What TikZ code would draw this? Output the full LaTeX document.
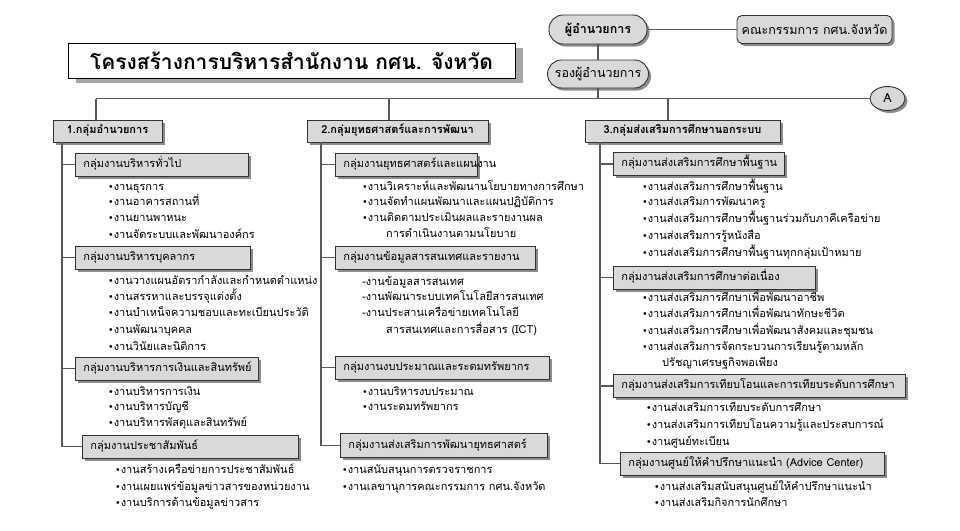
\documentclass[tikz,border=0pt]{standalone}
\usepackage{fontspec}
\usetikzlibrary{shadows,shapes.geometric}
\newfontfamily\thai[Script=Thai]{Loma}
\newfontfamily\dejavu{DejaVu Sans}
\newcommand\bul{\raisebox{0.2pt}{\dejavu\fontsize{9.5}{9.5}\selectfont •}}
\tikzset{
  conn/.style={draw=black!65, line width=1.3pt},
  shad/.style={drop shadow={shadow xshift=2.5pt, shadow yshift=-2.5pt, fill=black!45, opacity=1}},
  gbox/.style={draw=black!80, line width=0.9pt, fill=black!15, shad, font=\thai\bfseries\fontsize{11}{12}\selectfont, minimum height=22pt, inner sep=0pt, text height=8pt, text depth=3pt, align=center},
  sbox/.style={draw=black!80, line width=0.9pt, fill=black!15, shad, font=\thai\fontsize{11}{12}\selectfont, minimum height=23pt, inner xsep=8pt, inner ysep=0pt, text height=8pt, text depth=3pt, anchor=west, align=left},
  item/.style={anchor=base west, inner sep=0pt, font=\thai\fontsize{11}{12}\selectfont},
  topbox/.style={draw=black!80, line width=0.9pt, fill=black!15, shad, font=\thai\fontsize{12.5}{14}\selectfont, inner sep=0pt},
}
\begin{document}
\begin{tikzpicture}[x=1pt,y=-1pt]
\fill[white] (0,0) rectangle (960,530);
\useasboundingbox (0,0) rectangle (960,530);

% title
\node[draw=black, line width=0.9pt, fill=white, minimum width=447pt, minimum height=35pt, inner sep=0pt,
  drop shadow={shadow xshift=8pt, shadow yshift=-5pt, fill=black!35, opacity=1},
  font=\thai\bfseries\fontsize{21}{24}\selectfont] (title) at (291.5,60.5) {โครงสร้างการบริหารสำนักงาน กศน. จังหวัด};

% top boxes
\node[topbox, rounded corners=14pt, minimum width=98pt, minimum height=29pt, font=\thai\bfseries\fontsize{12.5}{14}\selectfont] (dir) at (598,29.5) {ผู้อำนวยการ};
\node[topbox, rounded corners=5pt, minimum width=155pt, minimum height=28pt] (board) at (814.5,29.5) {คณะกรรมการ กศน.จังหวัด};
\node[topbox, rounded corners=14pt, minimum width=101pt, minimum height=28pt] (rong) at (598,74) {รองผู้อำนวยการ};
\node[topbox, ellipse, minimum width=35pt, minimum height=24pt] (A) at (887.5,98.5) {A};

\draw[conn] (dir) -- (board);
\draw[conn] (dir) -- (rong);

% groups
\node[gbox, minimum width=109pt] (g1) at (107.5,131) {1.กลุ่มอำนวยการ};
\node[gbox, minimum width=181pt] (g2) at (397.5,131) {2.กลุ่มยุทธศาสตร์และการพัฒนา};
\node[gbox, minimum width=195pt] (g3) at (682.5,131) {3.กลุ่มส่งเสริมการศึกษานอกระบบ};

\coordinate (b1) at (96,98.5);
\coordinate (b2) at (389,98.5);
\coordinate (b3) at (668,98.5);
\draw[conn] (b1) -- (A.west);
\draw[conn] (rong.south) -- (rong.south |- A.west);
\draw[conn] (b1) -- (b1 |- g1.north);
\draw[conn] (b2) -- (b2 |- g2.north);
\draw[conn] (b3) -- (b3 |- g3.north);

% group 1
\node[sbox, text width=157pt] (s11) at (75,164.5) {กลุ่มงานบริหารทั่วไป};
\node[sbox, text width=159pt] (s12) at (75,257.5) {กลุ่มงานบริหารบุคลากร};
\node[sbox, text width=167pt] (s13) at (75,368.5) {กลุ่มงานบริหารการเงินและสินทรัพย์};
\node[sbox, text width=200pt] (s14) at (82,446.5) {กลุ่มงานประชาสัมพันธ์};
\coordinate (c1) at (62,446.5);
\draw[conn] (g1.south -| c1) -- (c1) -- (s14.west);
\draw[conn] (s11.west -| c1) -- (s11.west);
\draw[conn] (s12.west -| c1) -- (s12.west);
\draw[conn] (s13.west -| c1) -- (s13.west);

\node[item] (i1a) at (108,190.5) {\bul งานธุรการ};
\node[item] (i1b) at (108,205.5) {\bul งานอาคารสถานที่};
\node[item] (i1c) at (108,221.5) {\bul งานยานพาหนะ};
\node[item] (i1d) at (108,238.5) {\bul งานจัดระบบและพัฒนาองค์กร};
\node[item] (i1e) at (108,284.5) {\bul งานวางแผนอัตรากำลังและกำหนดตำแหน่ง};
\node[item] (i1f) at (108,300.5) {\bul งานสรรหาและบรรจุแต่งตั้ง};
\node[item] (i1g) at (108,316.5) {\bul งานบำเหน็จความชอบและทะเบียนประวัติ};
\node[item] (i1h) at (108,333.5) {\bul งานพัฒนาบุคคล};
\node[item] (i1i) at (108,350.5) {\bul งานวินัยและนิติการ};
\node[item] (i1j) at (108,395.5) {\bul งานบริหารการเงิน};
\node[item] (i1k) at (108,410.5) {\bul งานบริหารบัญชี};
\node[item] (i1l) at (108,426.5) {\bul งานบริหารพัสดุและสินทรัพย์};
\node[item] (i1m) at (115,473.5) {\bul งานสร้างเครือข่ายการประชาสัมพันธ์};
\node[item] (i1n) at (115,490.5) {\bul งานเผยแพร่ข้อมูลข่าวสารของหน่วยงาน};
\node[item] (i1o) at (115,506.5) {\bul งานบริการด้านข้อมูลข่าวสาร};

% group 2
\node[sbox, text width=126pt] (s21) at (335,164.5) {กลุ่มงานยุทธศาสตร์และแผนงาน};
\node[sbox, text width=184pt] (s22) at (335,257.5) {กลุ่มงานข้อมูลสารสนเทศและรายงาน};
\node[sbox, text width=198pt] (s23) at (335,367.5) {กลุ่มงานงบประมาณและระดมทรัพยากร};
\node[sbox, text width=191pt, minimum height=24pt] (s24) at (340,445.5) {กลุ่มงานส่งเสริมการพัฒนายุทธศาสตร์};
\coordinate (c2) at (321,445.5);
\draw[conn] (g2.south -| c2) -- (c2) -- (s24.west);
\draw[conn] (s21.west -| c2) -- (s21.west);
\draw[conn] (s22.west -| c2) -- (s22.west);
\draw[conn] (s23.west -| c2) -- (s23.west);

\node[item] (i2a) at (362,190.5) {\bul งานวิเคราะห์และพัฒนานโยบายทางการศึกษา};
\node[item] (i2b) at (362,205.5) {\bul งานจัดทำแผนพัฒนาและแผนปฏิบัติการ};
\node[item] (i2c) at (362,221.5) {\bul งานติดตามประเมินผลและรายงานผล};
\node[item] (i2d) at (386,237.5) {การดำเนินงานตามนโยบาย};
\node[item] (i2e) at (362,285.5) {-งานข้อมูลสารสนเทศ};
\node[item] (i2f) at (362,300.5) {-งานพัฒนาระบบเทคโนโลยีสารสนเทศ};
\node[item] (i2g) at (362,316.5) {-งานประสานเครือข่ายเทคโนโลยี};
\node[item] (i2h) at (386,333.5) {สารสนเทศและการสื่อสาร (ICT)};
\node[item] (i2i) at (362,395.5) {\bul งานบริหารงบประมาณ};
\node[item] (i2j) at (362,410.5) {\bul งานระดมทรัพยากร};
\node[item] (i2k) at (342,473.5) {\bul งานสนับสนุนการตรวจราชการ};
\node[item] (i2l) at (342,490.5) {\bul งานเลขานุการคณะกรรมการ กศน.จังหวัด};

% group 3
\node[sbox, text width=155pt] (s31) at (613,164) {กลุ่มงานส่งเสริมการศึกษาพื้นฐาน};
\node[sbox, text width=186pt] (s32) at (613,277.5) {กลุ่มงานส่งเสริมการศึกษาต่อเนื่อง};
\node[sbox, text width=276pt] (s33) at (613,386) {กลุ่มงานส่งเสริมการเทียบโอนและการเทียบระดับการศึกษา};
\node[sbox, text width=248pt] (s34) at (620,463.5) {กลุ่มงานศูนย์ให้คำปรึกษาแนะนำ (Advice Center)};
\coordinate (c3) at (600,463.5);
\draw[conn] (g3.south -| c3) -- (c3) -- (s34.west);
\draw[conn] (s31.west -| c3) -- (s31.west);
\draw[conn] (s32.west -| c3) -- (s32.west);
\draw[conn] (s33.west -| c3) -- (s33.west);

\node[item] (i3a) at (642,190.5) {\bul งานส่งเสริมการศึกษาพื้นฐาน};
\node[item] (i3b) at (642,205.5) {\bul งานส่งเสริมการพัฒนาครู};
\node[item] (i3c) at (642,222.5) {\bul งานส่งเสริมการศึกษาพื้นฐานร่วมกับภาคีเครือข่าย};
\node[item] (i3d) at (642,239.5) {\bul งานส่งเสริมการรู้หนังสือ};
\node[item] (i3e) at (642,256.5) {\bul งานส่งเสริมการศึกษาพื้นฐานทุกกลุ่มเป้าหมาย};
\node[item] (i3f) at (642,301.5) {\bul งานส่งเสริมการศึกษาเพื่อพัฒนาอาชีพ};
\node[item] (i3g) at (642,317.5) {\bul งานส่งเสริมการศึกษาเพื่อพัฒนาทักษะชีวิต};
\node[item] (i3h) at (642,334.5) {\bul งานส่งเสริมการศึกษาเพื่อพัฒนาสังคมและชุมชน};
\node[item] (i3i) at (642,350.5) {\bul งานส่งเสริมการจัดกระบวนการเรียนรู้ตามหลัก};
\node[item] (i3j) at (662,366.5) {ปรัชญาเศรษฐกิจพอเพียง};
\node[item] (i3k) at (646,411.5) {\bul งานส่งเสริมการเทียบระดับการศึกษา};
\node[item] (i3l) at (646,428.5) {\bul งานส่งเสริมการเทียบโอนความรู้และประสบการณ์};
\node[item] (i3m) at (646,445.5) {\bul งานศูนย์ทะเบียน};
\node[item] (i3n) at (654,490.5) {\bul งานส่งเสริมสนับสนุนศูนย์ให้คำปรึกษาแนะนำ};
\node[item] (i3o) at (654,506.5) {\bul งานส่งเสริมกิจการนักศึกษา};
\end{tikzpicture}
\end{document}
